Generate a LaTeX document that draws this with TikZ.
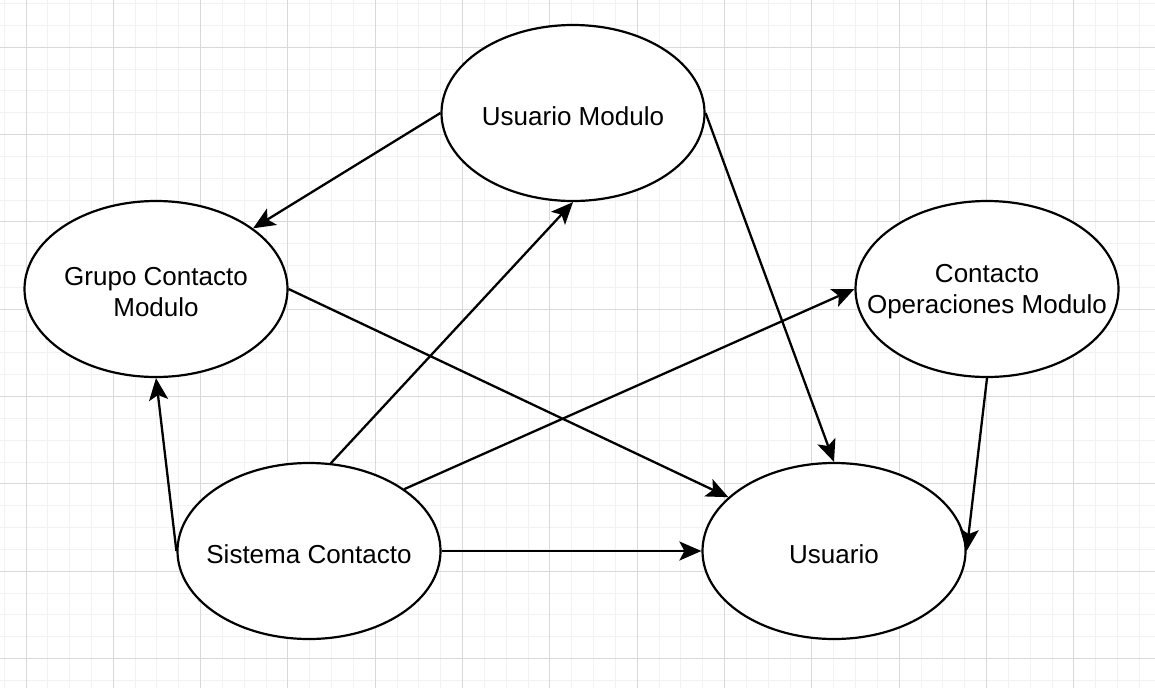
\documentclass[tikz,border=0pt]{standalone}
\usepackage{fontspec}
\setmainfont{Liberation Sans}
\usetikzlibrary{shapes.geometric,arrows.meta}
\begin{document}
\begin{tikzpicture}[x=1pt,y=-1pt,
  ell/.style={draw=black, line width=2.2pt, ellipse, fill=white, inner sep=0pt,
    minimum width=263pt, minimum height=176pt},
  lbl/.style={font=\fontsize{26}{31}\selectfont, align=center, text=black, yshift=-3pt},
  conn/.style={draw=black, line width=2.3pt, -{Stealth[length=22pt,width=19pt,inset=5pt]}},
  minorgrid/.style={draw=black!5, line width=1pt},
  majorgrid/.style={draw=black!15, line width=1pt}]
\useasboundingbox (0,0) rectangle (1155,688);
\fill[white] (0,0) rectangle (1155,688);
% grid
\foreach \i in {0,...,53} {
  \draw[minorgrid] ({4.17+21.83*\i},0) -- ({4.17+21.83*\i},688);
}
\foreach \j in {0,...,32} {
  \draw[minorgrid] (0,{3.6+21.83*\j}) -- (1155,{3.6+21.83*\j});
}
\foreach \i in {0,...,13} {
  \draw[majorgrid] ({26+87.32*\i},0) -- ({26+87.32*\i},688);
}
\foreach \j in {0,...,7} {
  \draw[majorgrid] (0,{47.3+87.32*\j}) -- (1155,{47.3+87.32*\j});
}
% nodes
\node[ell, label={[lbl]center:Usuario Modulo}] (um) at (573,113) {};
\node[ell, label={[lbl]center:Grupo Contacto\\Modulo}] (gc) at (156,289) {};
\node[ell, label={[lbl]center:Contacto\\Operaciones Modulo}] (co) at (987,289) {};
\node[ell, label={[lbl]center:Sistema Contacto}] (sc) at (309,551) {};
\node[ell, label={[lbl]center:Usuario}] (us) at (834,551) {};
% connectors
\draw[conn] (um.west) -- (gc.32);
\draw[conn] (um.east) -- (us.north);
\draw[conn] (gc.east) -- (us.153);
\draw[conn] (sc.west) -- (gc.south);
\draw[conn] (sc.76) -- (um.south);
\draw[conn] (sc.33) -- (co.west);
\draw[conn] (sc.east) -- (us.west);
\draw[conn] (co.south) -- (us.east);
\end{tikzpicture}
\end{document}
